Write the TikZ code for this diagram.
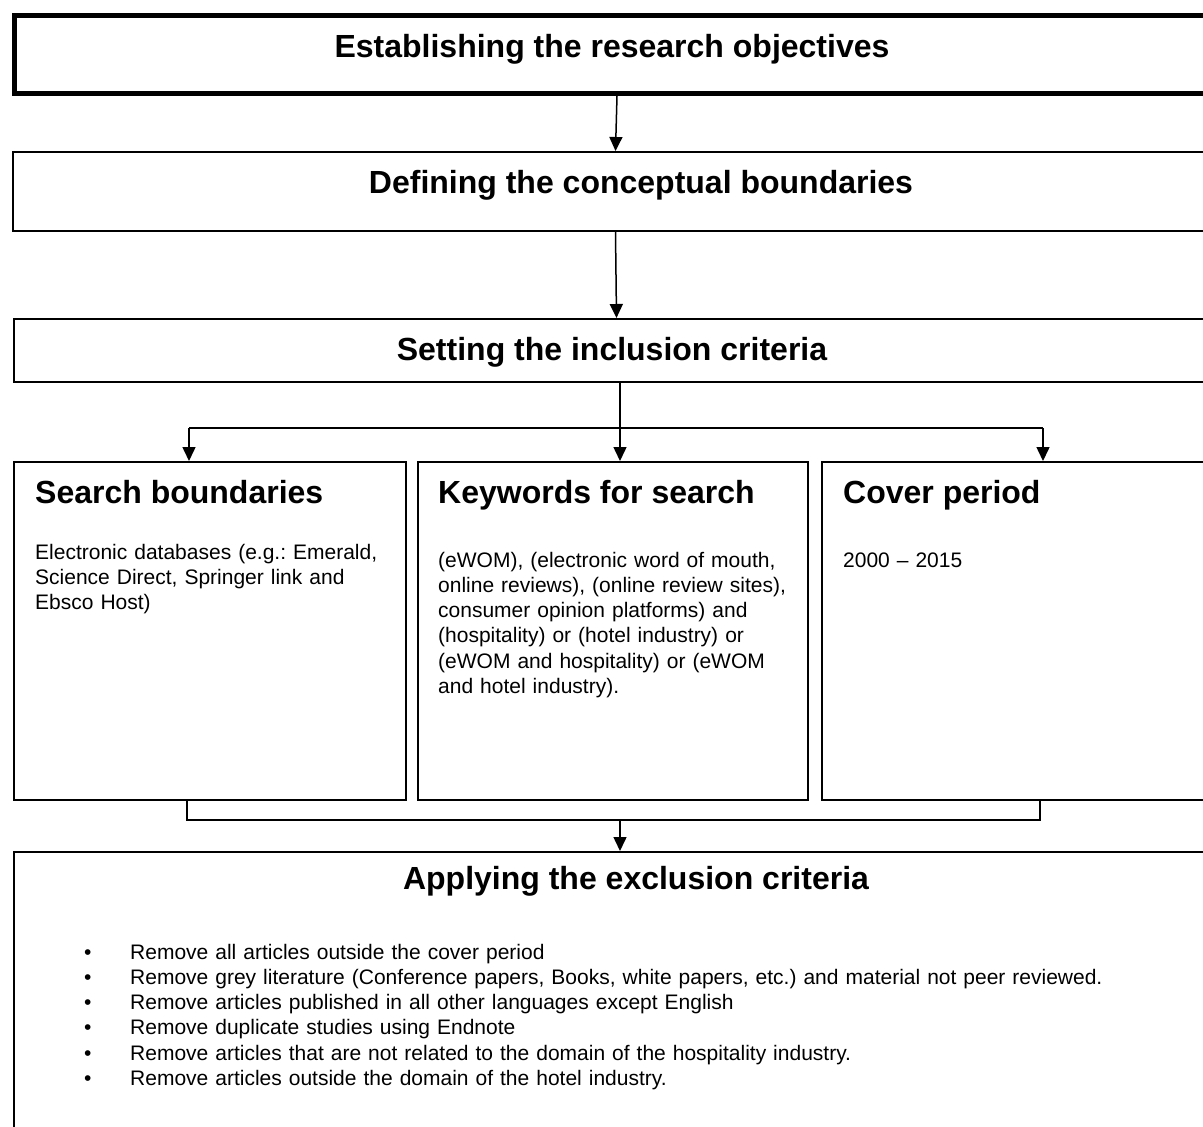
\documentclass[tikz,border=0pt]{standalone}
\usepackage{fontspec}
\setmainfont{Liberation Sans}
\usetikzlibrary{arrows.meta}
\frenchspacing

\begin{document}
\begin{tikzpicture}[x=1pt,y=-1pt,
  stage/.style={draw,line width=2pt,anchor=north west,inner sep=0pt},
  head/.style={font=\fontsize{32}{38}\selectfont\bfseries,anchor=base,inner sep=0pt},
  subhead/.style={font=\fontsize{32}{38}\selectfont\bfseries,anchor=base west,inner sep=0pt},
  body/.style={font=\fontsize{21}{25.3}\selectfont,anchor=base west,inner sep=0pt,align=left},
  link/.style={line width=1.5pt},
  flow/.style={link,-{Triangle[length=14pt,width=13pt]}}]
\useasboundingbox (0,0) rectangle (1203,1127);
\clip (0,0) rectangle (1203,1127);

% the stages, all running off the right edge
\node[stage,line width=5pt,minimum width=1205,minimum height=78] (obj) at (12,13) {};
\node[stage,minimum width=1205,minimum height=79] (con) at (12,151) {};
\node[stage,minimum width=1205,minimum height=63] (inc) at (13,318) {};
\node[stage,minimum width=392,minimum height=338] (srch) at (13,461) {};
\node[stage,minimum width=390,minimum height=338] (keyw) at (417,461) {};
\node[stage,minimum width=400,minimum height=338] (cover) at (821,461) {};
\node[stage,minimum width=1205,minimum height=300] (excl) at (13,851) {};

\node[head] (objtxt) at (612,57) {Establishing the research objectives};
\node[head] (contxt) at (641,193) {Defining the conceptual boundaries};
\node[head] (inctxt) at (612,360) {Setting the inclusion criteria};
\node[head] (excltxt) at (636,889) {Applying the exclusion criteria};

\node[subhead] (srchtxt) at (35,503) {Search boundaries};
\node[subhead] (keywtxt) at (438,503) {Keywords for search};
\node[subhead] (covertxt) at (843,503) {Cover period};

\node[body,text width=360] (srchbody) at (35,559) {Electronic databases (e.g.: Emerald,\\
  Science Direct, Springer link and\\
  Ebsco Host)};
\node[body,text width=360] (keywbody) at (438,567) {(eWOM), (electronic word of mouth,\\
  online reviews), (online review sites),\\
  consumer opinion platforms) and\\
  (hospitality) or (hotel industry) or\\
  (eWOM and hospitality) or (eWOM\\
  and hotel industry).};
\node[body,text width=360] (coverbody) at (843,567) {2000 -- 2015};

\node[body,text width=1100] (rules) at (84,959) {%
  \makebox[46pt][l]{\textbullet}Remove all articles outside the cover period\\
  \makebox[46pt][l]{\textbullet}Remove grey literature (Conference papers, Books, white papers, etc.) and material not peer reviewed.\\
  \makebox[46pt][l]{\textbullet}Remove articles published in all other languages except English\\
  \makebox[46pt][l]{\textbullet}Remove duplicate studies using Endnote\\
  \makebox[46pt][l]{\textbullet}Remove articles that are not related to the domain of the hospitality industry.\\
  \makebox[46pt][l]{\textbullet}Remove articles outside the domain of the hotel industry.};

% connectors
\draw[flow] (obj.south) -- (con.north);
\draw[flow] (con.south) -- (inc.north);

\coordinate (fork) at (620,428);
\coordinate (fl) at (189,428);
\coordinate (fr) at (1043,428);
\draw[link] (inc.south -| fork) -- (fork);
\draw[link] (fl) -- (fr);
\foreach \c in {fl,fork,fr}{\draw[flow] (\c) -- (\c |- srch.north);}

\coordinate (ml) at (187,820);
\coordinate (mr) at (1040,820);
\coordinate (join) at (620,820);
\draw[link] (ml |- srch.south) -- (ml) -- (mr) -- (mr |- cover.south);
\draw[flow] (join) -- (join |- excl.north);
\end{tikzpicture}
\end{document}
